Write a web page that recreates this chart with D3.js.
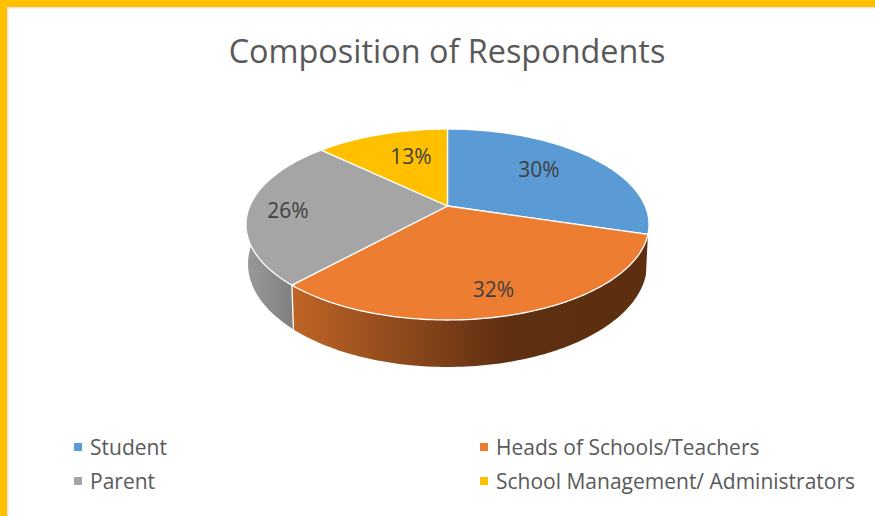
<!DOCTYPE html>
<html>
<head>
<meta charset="utf-8">
<script src="https://cdn.jsdelivr.net/npm/d3@7/dist/d3.min.js"></script>
<style>
html, body { margin: 0; padding: 0; background: #fff; }
svg { display: block; }
text { font-family: "Open Sans", sans-serif; }
</style>
</head>
<body>
<svg id="chart" width="875" height="516"></svg>
<script>
// データ
const categories = ['Student', 'Heads of Schools/Teachers', 'Parent', 'School Management/ Administrators'];
const values = [30, 32.4, 25.6, 13];
const labels = ['30%', '32%', '26%', '13%'];
const colors = ['#5B9BD5', '#ED7D31', '#A5A5A5', '#FFC000'];
const titleText = 'Composition of Respondents';

// - - - - 設定 - - - -
const W = 875, H = 516;
const cx = 447.5, cy = 206;      // 扇の中心（画面上）
const rx = 197.7, ry = 91.9;     // 横・縦の半径
const persp = 0.1937;            // 手前が大きく見える度合い
const depth = 37.9;              // 側面の厚み
const bottomScale = 0.99;        // 底面の縮み
const labelRadius = [0.66, 0.80, 0.80, 0.63];
const labelShift = [-4, 1, -2, 4];   // ラベルの角度のずれ（度）
// - - - - - - - - - -

const svg = d3.select('#chart');

// 枠
svg.append('rect').attr('x', 7).attr('y', 7).attr('width', W).attr('height', 1.5).attr('fill', '#e6e6e6');
svg.append('rect').attr('x', 7).attr('y', 7).attr('width', 1.5).attr('height', H).attr('fill', '#e6e6e6');
svg.append('rect').attr('width', W).attr('height', 7).attr('fill', '#FFC000');
svg.append('rect').attr('width', 7).attr('height', H).attr('fill', '#FFC000');

// タイトル
svg.append('text')
    .attr('x', 447).attr('y', 63)
    .attr('text-anchor', 'middle')
    .attr('font-size', 32.4)
    .attr('fill', '#595959')
    .text(titleText);

// 円の上の点を画面へ（angleは12時から時計回り）
function project(angle, r, bottom) {
    const u = Math.sin(angle) * r, v = -Math.cos(angle) * r;
    const w = 1 - persp * v;
    const s = bottom ? bottomScale : 1;
    return [cx + s * rx * u / w, cy + ry * v / w + (bottom ? depth / w : 0)];
}

const pie = d3.pie().sort(null).value(d => d);
const slices = pie(values);
const line = d3.line();

function rim(a0, a1, bottom) {
    const n = Math.max(2, Math.ceil((a1 - a0) / 0.02));
    return d3.range(n + 1).map(i => project(a0 + (a1 - a0) * i / n, 1, bottom));
}

function labelPos(d, i) {
    const a = (d.startAngle + d.endAngle) / 2 + labelShift[i] * Math.PI / 180;
    return project(a, labelRadius[i], false);
}

// グラデーション
const defs = svg.append('defs');
function addGradient(id, x1, x2, stops) {
    const g = defs.append('linearGradient')
        .attr('id', id)
        .attr('gradientUnits', 'userSpaceOnUse')
        .attr('x1', x1).attr('x2', x2).attr('y1', 0).attr('y2', 0);
    stops.forEach(s => g.append('stop').attr('offset', s[0]).attr('stop-color', s[1]));
}
addGradient('wallOrange', 292, 650, [[0, '#BF6526'], [0.6, '#5F2F12'], [1, '#5E2E11']]);
addGradient('wallGray', 246, 298, [[0, '#9A9A9A'], [1, '#7C7C7C']]);

// 側面（手前に見える部分だけ）
const walls = [
    { index: 1, fill: 'url(#wallOrange)' },
    { index: 2, fill: 'url(#wallGray)', end: 1.5 * Math.PI }
];
walls.forEach(wall => {
    const s = slices[wall.index];
    const end = wall.end || s.endAngle;
    const pts = rim(s.startAngle, end, false).concat(rim(s.startAngle, end, true).reverse());
    svg.append('path')
        .attr('d', line(pts) + 'Z')
        .attr('fill', wall.fill);
});

// 側面の境目
const seam = slices[1].endAngle;
svg.append('path')
    .attr('d', line([project(seam, 1, false), project(seam, 1, true)]))
    .attr('stroke', '#fff').attr('stroke-width', 1.3).attr('fill', 'none');

// 上面
svg.append('g').selectAll('path')
    .data(slices)
    .join('path')
    .attr('d', d => line([[cx, cy]].concat(rim(d.startAngle, d.endAngle, false))) + 'Z')
    .attr('fill', (d, i) => colors[i])
    .attr('stroke', '#fff')
    .attr('stroke-width', 1.3)
    .attr('stroke-linejoin', 'round');

// データラベル
svg.append('g').selectAll('text')
    .data(slices)
    .join('text')
    .attr('x', (d, i) => labelPos(d, i)[0])
    .attr('y', (d, i) => labelPos(d, i)[1])
    .attr('dy', '0.35em')
    .attr('text-anchor', 'middle')
    .attr('font-size', 21)
    .attr('fill', '#404040')
    .text((d, i) => labels[i]);

// 凡例
const legendX = d3.scalePoint().domain([0, 1]).range([74, 480]);
const legendY = d3.scalePoint().domain([0, 1]).range([447, 481]);
const legend = svg.append('g').selectAll('g')
    .data(categories)
    .join('g')
    .attr('transform', (d, i) => `translate(${legendX(i % 2)},${legendY(Math.floor(i / 2))})`);
legend.append('rect')
    .attr('x', 0).attr('y', -4).attr('width', 8).attr('height', 8)
    .attr('fill', (d, i) => colors[i]);
legend.append('text')
    .attr('x', 16)
    .attr('y', 1)
    .attr('dy', '0.35em')
    .attr('font-size', 21)
    .attr('fill', '#595959')
    .text(d => d);
</script>
</body>
</html>
